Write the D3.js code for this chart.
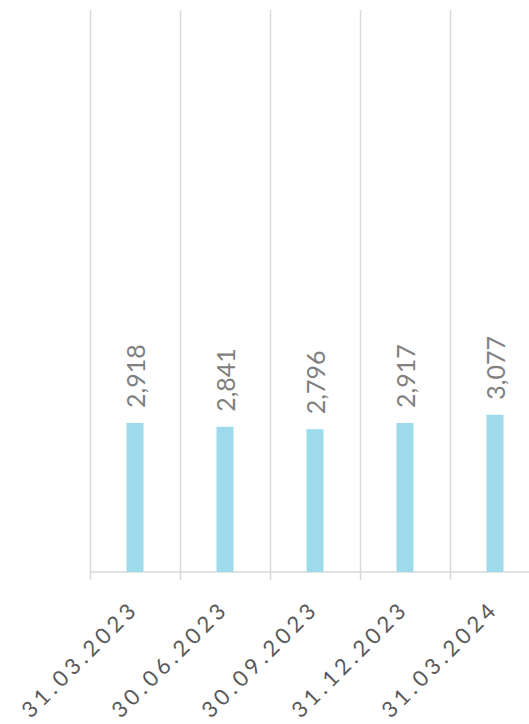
<!DOCTYPE html>
<html><head><meta charset="utf-8">
<script src="https://cdn.jsdelivr.net/npm/d3@7"></script>
<style>body{margin:0;background:#fff}svg{display:block}</style>
</head><body>
<script>
const categories = ["31.03.2023","30.06.2023","30.09.2023","31.12.2023","31.03.2024"];
const values = [2918, 2841, 2796, 2917, 3077];
const valueLabels = ["2,918","2,841","2,796","2,917","3,077"];

const W = 529, H = 724;
const svg = d3.select("body").append("svg").attr("width", W).attr("height", H);
const x = d3.scaleBand().domain(categories).range([90, 540]).paddingInner(0).paddingOuter(0);
const y = d3.scaleLinear().domain([0, 11000]).range([572, 10]);

const bounds = categories.map(c => x(c));
svg.append("g").selectAll("line").data(bounds).join("line")
  .attr("x1", d => d + 0.5).attr("x2", d => d + 0.5)
  .attr("y1", y(11000)).attr("y2", y(0))
  .attr("stroke", "#d9d9d9").attr("stroke-width", 1.5);

svg.append("line").attr("x1", 90).attr("x2", W).attr("y1", y(0)).attr("y2", y(0))
  .attr("stroke", "#d9d9d9").attr("stroke-width", 1.5);
svg.append("g").selectAll("line").data(bounds).join("line")
  .attr("x1", d => d + 0.5).attr("x2", d => d + 0.5)
  .attr("y1", y(0)).attr("y2", y(0) + 8)
  .attr("stroke", "#d9d9d9").attr("stroke-width", 1.5);

const bw = 17;
svg.append("g").selectAll("rect").data(values).join("rect")
  .attr("x", (d, i) => x(categories[i]) + x.bandwidth() / 2 - bw / 2)
  .attr("width", bw)
  .attr("y", d => y(d)).attr("height", d => y(0) - y(d))
  .attr("fill", "#9ddbec");

svg.append("g").selectAll("text").data(values).join("text")
  .attr("transform", (d, i) => `translate(${x(categories[i]) + x.bandwidth() / 2 + 1},${y(d) - 15}) rotate(-90)`)
  .attr("dy", "0.36em")
  .attr("text-anchor", "start")
  .attr("font-family", "Lato, 'Open Sans', sans-serif")
  .attr("font-size", 25)
  .attr("fill", "#808080")
  .text((d, i) => valueLabels[i]);

svg.append("g").selectAll("text").data(categories).join("text")
  .attr("transform", d => `translate(${x(d) + x.bandwidth() / 2 + 5},${610}) rotate(-45)`)
  .attr("text-anchor", "end")
  .attr("font-family", "Lato, 'Open Sans', sans-serif")
  .attr("font-size", 22)
  .attr("letter-spacing", 4.2)
  .attr("fill", "#595959")
  .text(d => d);
</script>
</body></html>
